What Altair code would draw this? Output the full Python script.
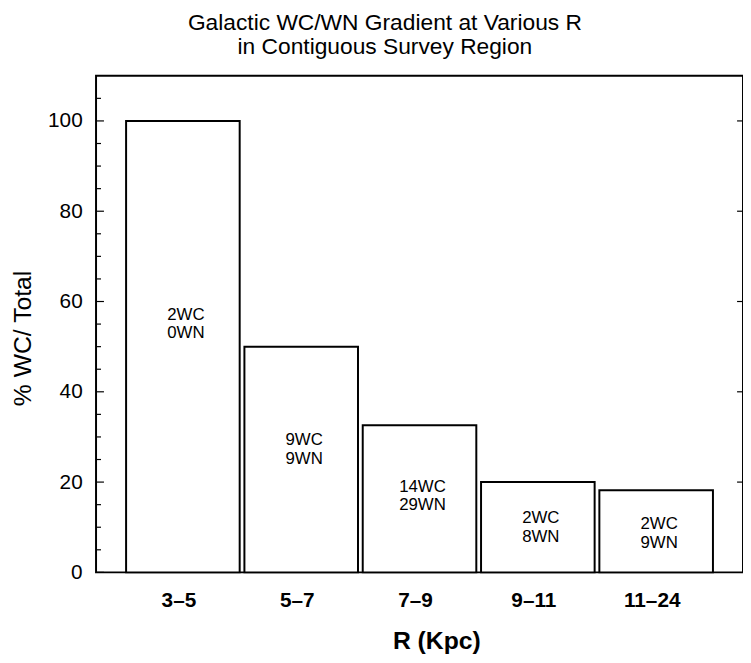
import altair as alt
import pandas as pd

# ---- data ----
categories = ["3–5", "5–7", "7–9", "9–11", "11–24"]
wc_counts = [2, 9, 14, 2, 2]
wn_counts = [0, 9, 29, 8, 9]
pct_wc = [100.0, 50.0, 32.6, 20.0, 18.2]
label_y = [55.0, 27.2, 16.9, 10.0, 8.6]
y_major = [0, 20, 40, 60, 80, 100]
y_minor = [5, 10, 15, 25, 30, 35, 45, 50, 55, 65, 70, 75, 85, 90, 95, 105]

FONT = "Liberation Sans"

df = pd.DataFrame({
    "R": categories,
    "pct": pct_wc,
    "wc": [f"{c}WC" for c in wc_counts],
    "wn": [f"{n}WN" for n in wn_counts],
    "ly": label_y,
})
major_df = pd.DataFrame({"v": y_major})
minor_df = pd.DataFrame({"v": y_minor})

yscale = alt.Scale(domain=[0, 110], nice=False, zero=True)
xscale = alt.Scale(domain=categories, paddingInner=0.04, paddingOuter=0.254)

x_enc = alt.X(
    "R:N", sort=categories, scale=xscale,
    axis=alt.Axis(
        title="R (Kpc)", ticks=False, domain=False, grid=False, labelAngle=0,
        labelFont=FONT, labelFontSize=21, labelFontWeight="bold", labelColor="black",
        labelBaseline="alphabetic", labelPadding=34, labelOffset=-4,
        titleFont=FONT, titleFontSize=25, titleFontWeight="bold", titleColor="black",
        titleX=344, titleY=77, titleBaseline="alphabetic", titleAlign="center",
    ),
)
y_enc = alt.Y(
    "pct:Q", scale=yscale,
    axis=alt.Axis(
        values=y_major, ticks=False, domain=False, grid=False,
        labelFont=FONT, labelFontSize=21, labelColor="black", labelPadding=14,
        title="% WC/ Total", titleFont=FONT, titleFontSize=25, titleFontWeight="normal",
        titleColor="black", titleX=-66, titleY=265, titleAngle=270,
        titleBaseline="alphabetic", titleAlign="center",
    ),
)

bars = alt.Chart(df).mark_bar(fill="white", stroke="black", strokeWidth=2).encode(
    x=x_enc, y=y_enc
)

txt_wc = alt.Chart(df).mark_text(font=FONT, fontSize=17, color="black", dy=-9.5, dx=3).encode(
    x=alt.X("R:N", sort=categories, scale=xscale),
    y=alt.Y("ly:Q", scale=yscale),
    text="wc:N",
)
txt_wn = alt.Chart(df).mark_text(font=FONT, fontSize=17, color="black", dy=9.5, dx=3).encode(
    x=alt.X("R:N", sort=categories, scale=xscale),
    y=alt.Y("ly:Q", scale=yscale),
    text="wn:N",
)

major_left = alt.Chart(major_df).mark_rule(color="black", strokeWidth=1.2).encode(
    y=alt.Y("v:Q", scale=yscale), x=alt.value(0), x2=alt.value(8)
)
minor_left = alt.Chart(minor_df).mark_rule(color="black", strokeWidth=1.2).encode(
    y=alt.Y("v:Q", scale=yscale), x=alt.value(0), x2=alt.value(5)
)
major_right = alt.Chart(major_df[major_df.v > 0]).mark_rule(color="black", strokeWidth=1.2).encode(
    y=alt.Y("v:Q", scale=yscale), x=alt.value(648), x2=alt.value(654)
)

chart = alt.layer(bars, txt_wc, txt_wn, major_left, minor_left, major_right).properties(
    width=654,
    height=502,
    autosize="none",
    padding={"left": 89, "top": 65, "right": 0, "bottom": 80},
    title=alt.TitleParams(
        ["Galactic WC/WN Gradient at Various R", "in Contiguous Survey Region"],
        font=FONT, fontSize=23, fontWeight="normal", color="black",
        lineHeight=24, anchor="middle", dx=-35, dy=-13, offset=4,
    ),
).configure(background="white").configure_view(stroke="black", strokeWidth=2)

chart.save("out.html", embed_options={"renderer": "svg", "actions": False})
